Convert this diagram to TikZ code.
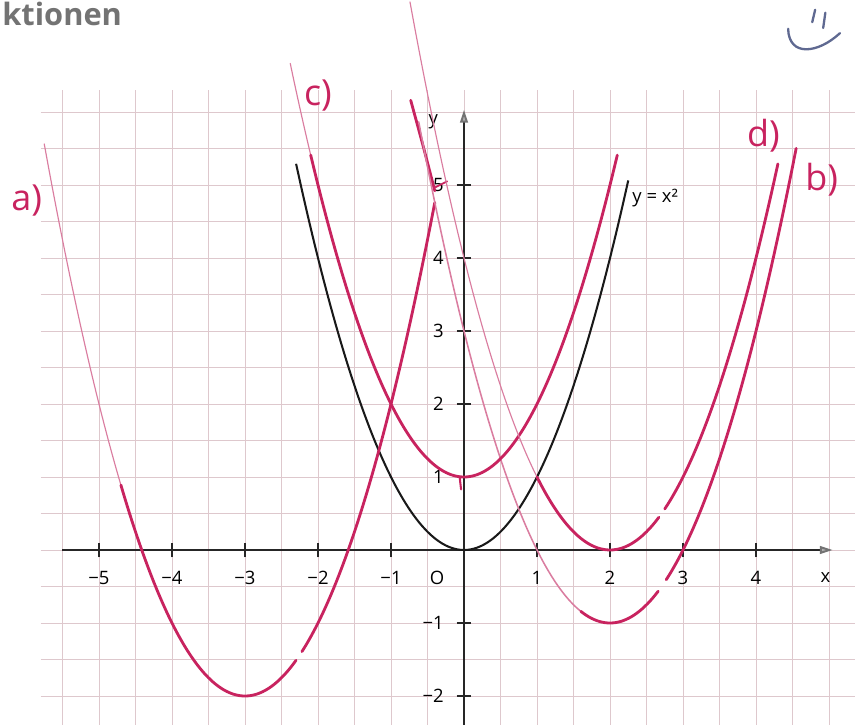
\documentclass[tikz,border=0pt]{standalone}
\usepackage{fontspec}
\setmainfont{Open Sans}
\usetikzlibrary{arrows.meta}
\definecolor{gridpink}{RGB}{222,200,205}
\definecolor{handpink}{RGB}{200,35,95}
\definecolor{handfaint}{RGB}{218,125,160}
\definecolor{pencil}{RGB}{95,105,145}

\begin{document}
\begin{tikzpicture}[
	gridline/.style={draw=gridpink, line width=0.3pt},
	axisline/.style={draw=black!85, line width=0.75pt},
	axistip/.style={-{Triangle[length=5pt, width=3pt, color=black!55, fill=black!30]}},
	blackcurve/.style={draw=black!90, line width=0.8pt},
	handline/.style={draw=handpink, line width=1.1pt, line cap=round},
	handfine/.style={draw=handfaint, line width=0.45pt, line cap=round},
	ticklabel/.style={font=\fontsize{7.2}{8}\selectfont, inner sep=0pt},
	handlabel/.style={text=handpink, font=\fontsize{14}{16}\selectfont, inner sep=0pt}]
				\useasboundingbox (-6.356,-2.384) rectangle (5.356,7.534);
				% squared paper
				\draw [gridline, xstep=0.5, ystep=20] (-5.55,-2.4) grid (5.05,6.3);
				\draw [gridline, xstep=20, ystep=0.5] (-5.8,-2.05) grid (5.36,6.05);
				% axes
				\coordinate (xl) at (-5.5,0);
				\coordinate (xr) at (5.05,0);
				\coordinate (yb) at (0,-2.4);
				\coordinate (yt) at (0,6.03);
				\draw [axisline, axistip] (xl) -- (xr);
				\draw [axisline, axistip] (yb) -- (yt);
				\draw [axisline, line width=0.6pt] (-5,-0.1) -- (-5,0.1) (-4,-0.1) -- (-4,0.1)
				(-3,-0.1) -- (-3,0.1) (-2,-0.1) -- (-2,0.1) (-1,-0.1) -- (-1,0.1)
				(1,-0.1) -- (1,0.1) (2,-0.1) -- (2,0.1) (3,-0.1) -- (3,0.1) (4,-0.1) -- (4,0.1)
				(-0.1,-2) -- (0.1,-2) (-0.1,-1) -- (0.1,-1) (-0.1,1) -- (0.1,1) (-0.1,2) -- (0.1,2)
				(-0.1,3) -- (0.1,3) (-0.1,4) -- (0.1,4) (-0.1,5) -- (0.1,5);
				\node (xm5) at (-5,-0.38) [ticklabel] {−5};
				\node (xm4) at (-4,-0.38) [ticklabel] {−4};
				\node (xm3) at (-3,-0.38) [ticklabel] {−3};
				\node (xm2) at (-2,-0.38) [ticklabel] {−2};
				\node (xm1) at (-1,-0.38) [ticklabel] {−1};
				\node (orig) at (-0.37,-0.38) [ticklabel] {O};
				\node (xp1) at (1,-0.38) [ticklabel] {1};
				\node (xp2) at (2,-0.38) [ticklabel] {2};
				\node (xp3) at (3,-0.38) [ticklabel] {3};
				\node (xp4) at (4,-0.38) [ticklabel] {4};
				\node (xname) at (4.95,-0.38) [ticklabel] {x};
				\node (ym2) at (-0.27,-2) [ticklabel, anchor=east] {−2};
				\node (ym1) at (-0.27,-1) [ticklabel, anchor=east] {−1};
				\node (yp1) at (-0.27,1) [ticklabel, anchor=east] {1};
				\node (yp2) at (-0.27,2) [ticklabel, anchor=east] {2};
				\node (yp3) at (-0.27,3) [ticklabel, anchor=east] {3};
				\node (yp4) at (-0.27,4) [ticklabel, anchor=east] {4};
				\node (yp5) at (-0.27,5) [ticklabel, anchor=east] {5};
				\node (yname) at (-0.42,5.86) [ticklabel] {y};
				% printed normal parabola
				\draw [blackcurve] plot [domain=-2.3:2.25, samples=60, smooth] (\x, {\x*\x});
				\node (norm) at (2.3,4.82) [ticklabel, anchor=west] {y = x²};
				% a) shifted left and down
				\draw [handfine] plot [domain=-5.75:-4.7, samples=20, smooth] (\x, {(\x+3)*(\x+3)-2});
				\draw [handline] plot [domain=-4.7:-2.3, samples=40, smooth] (\x, {(\x+3)*(\x+3)-2});
				\draw [handline] plot [domain=-2.22:-0.4, samples=40, smooth] (\x, {(\x+3)*(\x+3)-2});
				\draw [handline] (-0.4,4.92) .. controls (-0.55,5.5) .. (-0.73,6.16);
				\draw [handline, line width=0.7pt] (-0.39,4.97) -- (-0.23,5.05);
				% b) shifted right and down
				\draw [handfine, line width=0.6pt] plot [domain=-0.62:1.6, samples=40, smooth] (\x, {(\x-2)*(\x-2)-1});
				\draw [handline] plot [domain=1.6:2.66, samples=30, smooth] (\x, {(\x-2)*(\x-2)-1});
				\draw [handline] plot [domain=2.77:4.55, samples=30, smooth] (\x, {(\x-2)*(\x-2)-1});
				% c) shifted up
				\draw [handfine] plot [domain=-2.38:-2.1, samples=10, smooth] (\x, {\x*\x+1});
				\draw [handline] plot [domain=-2.1:2.1, samples=60, smooth] (\x, {\x*\x+1});
				\draw [handline, line width=0.8pt] (-0.06,1.0) -- (-0.04,0.83);
				% d) shifted right
				\draw [handfine] plot [domain=-0.74:1, samples=40, smooth] (\x, {(\x-2)*(\x-2)});
				\draw [handline] plot [domain=1:2.67, samples=30, smooth] (\x, {(\x-2)*(\x-2)});
				\draw [handline] plot [domain=2.75:4.3, samples=30, smooth] (\x, {(\x-2)*(\x-2)});
				% handwritten names
				\node (la) at (-5.99,4.79) [handlabel] {a)};
				\node (lc) at (-2.0,6.23) [handlabel] {c)};
				\node (ld) at (4.1,5.68) [handlabel] {d)};
				\node (lb) at (4.9,5.07) [handlabel] {b)};
				% page header and smiley
				\node (title) at (-6.33,7.18) [anchor=base west, inner sep=0pt, text=black!55,
				font=\fontsize{12}{14}\selectfont\bfseries] {ktionen};
				\draw [pencil, line width=0.9pt, line cap=round] (4.81,7.40) -- (4.77,7.23)
				(4.95,7.36) -- (4.92,7.15)
				(4.44,7.14) .. controls (4.45,6.75) and (4.85,6.8) .. (5.15,7.08);
			\end{tikzpicture}
\end{document}
